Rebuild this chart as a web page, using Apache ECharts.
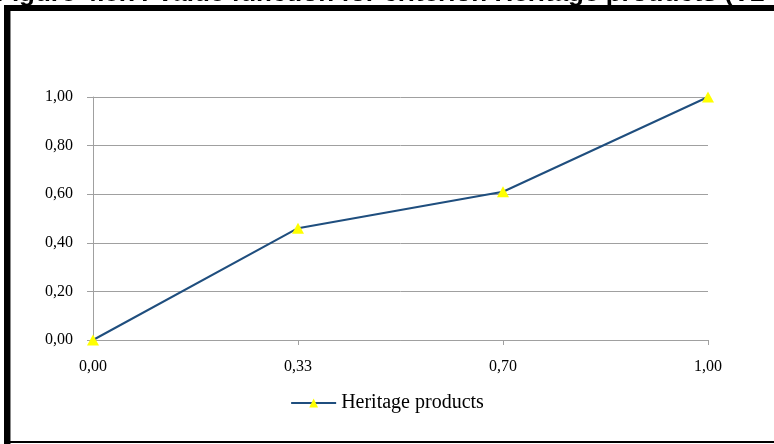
<!DOCTYPE html>
<html>
<head>
<meta charset="utf-8">
<script src="https://cdn.jsdelivr.net/npm/echarts@6/dist/echarts.min.js"></script>
<style>
html,body{margin:0;padding:0;background:#fff;}
#chart{width:774px;height:444px;}
</style>
</head>
<body>
<div id="chart"></div>
<script>
const titleText = 'Figure 4.8.7: Value function for criterion Heritage products (V2';
const categories = ['0,00', '0,33', '0,70', '1,00'];
const seriesName = 'Heritage products';
const values = [0, 0.46, 0.61, 1.0];
const yTicks = [0, 0.2, 0.4, 0.6, 0.8, 1.0];

const chart = echarts.init(document.getElementById('chart'));
const serif = '"Liberation Serif", "DejaVu Serif", serif';
chart.setOption({
  animation: false,
  backgroundColor: '#fff',
  grid: { left: 93, right: 66, top: 97, bottom: 104 },
  legend: {
    data: [seriesName],
    bottom: 26,
    left: 'center',
    itemWidth: 45,
    itemHeight: 11,
    itemGap: 6,
    textStyle: { fontFamily: serif, fontSize: 20, color: '#000' }
  },
  xAxis: {
    type: 'category',
    data: categories,
    boundaryGap: false,
    axisLine: { lineStyle: { color: '#A0A0A0', width: 1 } },
    axisTick: { show: true, length: 5, lineStyle: { color: '#A0A0A0' } },
    axisLabel: { margin: 19, fontFamily: serif, fontSize: 16, color: '#000' },
    splitLine: { show: false }
  },
  yAxis: {
    type: 'value',
    min: 0,
    max: 1,
    interval: 0.2,
    axisLine: { show: true, lineStyle: { color: '#A0A0A0', width: 1 } },
    axisTick: { show: true, length: 6, lineStyle: { color: '#A0A0A0' } },
    axisLabel: {
      margin: 20, fontFamily: serif, fontSize: 16, color: '#000',
      formatter: v => v.toFixed(2).replace('.', ',')
    },
    splitLine: { show: true, lineStyle: { color: '#A0A0A0', width: 1 } }
  },
  series: [{
    name: seriesName,
    type: 'line',
    data: values,
    symbol: 'triangle',
    symbolSize: [12, 11],
    showAllSymbol: true,
    lineStyle: { color: '#1F4E7E', width: 2 },
    itemStyle: { color: '#FFFF00', borderWidth: 0 },
    z: 3
  }],
  graphic: [
    { type: 'text', left: -4, top: -19, z: 10,
      style: { text: titleText, font: 'bold 26px "Liberation Sans", Arial, sans-serif', fill: '#000' } },
    { type: 'rect', shape: { x: 4, y: 5, width: 770, height: 6 }, style: { fill: '#000' }, z: 11 },
    { type: 'rect', shape: { x: 4, y: 5, width: 6, height: 439 }, style: { fill: '#000' }, z: 11 },
    { type: 'rect', shape: { x: 10, y: 11, width: 1, height: 433 }, style: { fill: '#888' }, z: 11 },
    { type: 'rect', shape: { x: 4, y: 441, width: 770, height: 2 }, style: { fill: '#000' }, z: 11 }
  ]
});
</script>
</body>
</html>
